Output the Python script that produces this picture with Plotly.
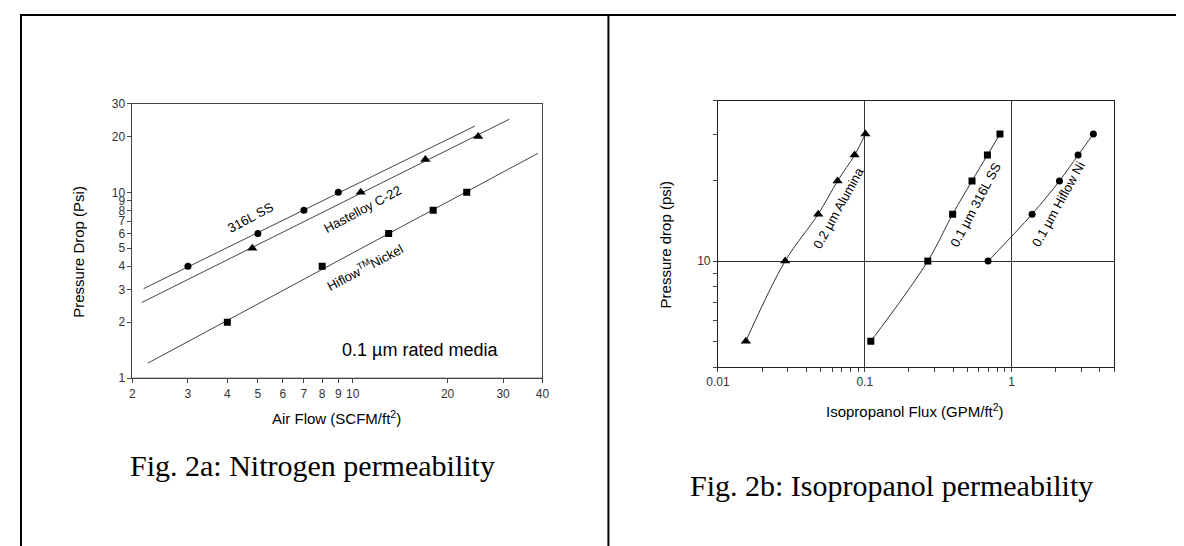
import numpy as np
import plotly.graph_objects as go

W, H = 1184, 546
OFF = 8  # the page body has an 8px margin; positions below are page pixels

# ---------------- Fig 2a data (Nitrogen permeability) ----------------
ss_air_x = [3, 5, 7, 9]
ss_air_y = [4, 6, 8, 10]
hast_air_x = [4.8, 10.6, 17, 25]
hast_air_y = [5, 10, 15, 20]
hiflow_air_x = [4, 8, 13, 18, 23]
hiflow_air_y = [2, 4, 6, 8, 10]
# extent of the fitted (power) trend lines
ss_fit_x = [2.17, 24.4]
hast_fit_x = [2.14, 31.4]
hiflow_fit_x = [2.24, 38.7]

x1_ticks = [2, 3, 4, 5, 6, 7, 8, 9, 10, 20, 30, 40]
y1_ticks = [1, 2, 3, 4, 5, 6, 7, 8, 9, 10, 20, 30]

# ---------------- Fig 2b data (Isopropanol permeability) ----------------
alumina_x = [0.0155, 0.0287, 0.0482, 0.0653, 0.0853, 0.101]
alumina_y = [5, 10, 15, 20, 25, 30]
ss_ipa_x = [0.11, 0.269, 0.397, 0.538, 0.685, 0.834]
ss_ipa_y = [5, 10, 15, 20, 25, 30]
hiflow_ipa_x = [0.692, 1.38, 2.12, 2.84, 3.61]
hiflow_ipa_y = [10, 15, 20, 25, 30]

x2_major = [0.01, 0.1, 1]
x2_major_text = ["0.01", "0.1", "1"]
x2_minor = [0.02, 0.03, 0.04, 0.05, 0.06, 0.07, 0.08, 0.09,
            0.2, 0.3, 0.4, 0.5, 0.6, 0.7, 0.8, 0.9, 2, 3, 4, 5]
y2_major = [10]
y2_major_text = ["10"]
y2_minor = [4, 5, 6, 7, 8, 9, 20, 30, 40]

SANS = "Liberation Sans, Arial, sans-serif"
SERIF = "Liberation Serif, Times New Roman, serif"


def px(x):
    return (x - OFF) / W


def py(y):
    return 1 - (y - OFF) / H


def power_fit(xs, ys, xr):
    b, a = np.polyfit(np.log10(xs), np.log10(ys), 1)
    xr = np.array(xr, dtype=float)
    return xr, 10 ** (a + b * np.log10(xr))


fig = go.Figure()

# trend lines (fig 2a)
for xs, ys, xr in [(ss_air_x, ss_air_y, ss_fit_x),
                   (hast_air_x, hast_air_y, hast_fit_x),
                   (hiflow_air_x, hiflow_air_y, hiflow_fit_x)]:
    fx, fy = power_fit(xs, ys, xr)
    fig.add_trace(go.Scatter(x=fx, y=fy, mode="lines", xaxis="x", yaxis="y",
                             line=dict(color="#444", width=1), showlegend=False,
                             hoverinfo="skip"))

fig.add_trace(go.Scatter(x=ss_air_x, y=ss_air_y, mode="markers", xaxis="x", yaxis="y",
                         marker=dict(symbol="circle", size=7, color="black"),
                         name="316L SS", showlegend=False))
fig.add_trace(go.Scatter(x=hast_air_x, y=hast_air_y, mode="markers", xaxis="x", yaxis="y",
                         marker=dict(symbol="triangle-up", size=9, color="black"),
                         name="Hastelloy C-22", showlegend=False))
fig.add_trace(go.Scatter(x=hiflow_air_x, y=hiflow_air_y, mode="markers", xaxis="x", yaxis="y",
                         marker=dict(symbol="square", size=7, color="black"),
                         name="Hiflow Nickel", showlegend=False))

# fig 2b series
fig.add_trace(go.Scatter(x=alumina_x, y=alumina_y, mode="lines+markers", xaxis="x2", yaxis="y2",
                         line=dict(color="#333", width=1, shape="spline"),
                         marker=dict(symbol="triangle-up", size=9, color="black"),
                         name="0.2 µm Alumina", showlegend=False))
fig.add_trace(go.Scatter(x=ss_ipa_x, y=ss_ipa_y, mode="lines+markers", xaxis="x2", yaxis="y2",
                         line=dict(color="#333", width=1, shape="spline"),
                         marker=dict(symbol="square", size=7, color="black"),
                         name="0.1 µm 316L SS", showlegend=False))
fig.add_trace(go.Scatter(x=hiflow_ipa_x, y=hiflow_ipa_y, mode="lines+markers", xaxis="x2", yaxis="y2",
                         line=dict(color="#333", width=1, shape="spline"),
                         marker=dict(symbol="circle", size=7, color="black"),
                         name="0.1 µm Hiflow Ni", showlegend=False))

axis_common = dict(type="log", showline=True, mirror=True, ticks="outside", ticklen=4,
                   tickcolor="#444", linecolor="#444", linewidth=1, showgrid=False,
                   zeroline=False, tickfont=dict(family=SANS, size=12, color="#333"))
minor_common = dict(ticks="outside", ticklen=4, tickcolor="#444", showgrid=False)

fig.update_layout(
    width=W, height=H,
    margin=dict(l=0, r=0, t=0, b=0),
    paper_bgcolor="white", plot_bgcolor="white",
    xaxis=dict(axis_common, domain=[px(122.3), px(539)], anchor="y",
               range=[np.log10(2), np.log10(40)],
               tickvals=x1_ticks, ticktext=[str(v) for v in x1_ticks]),
    yaxis=dict(axis_common, domain=[py(380.7), py(99)], anchor="x",
               range=[0, np.log10(30)],
               tickvals=y1_ticks, ticktext=[str(v) for v in y1_ticks]),
    xaxis2=dict(axis_common, domain=[px(717.3), px(1120)], anchor="y2",
                range=[-2, np.log10(5)], linecolor="#222",
                tickvals=x2_major, ticktext=x2_major_text,
                showgrid=True, gridcolor="#333", gridwidth=1,
                minor=dict(minor_common, tickmode="array", tickvals=x2_minor)),
    yaxis2=dict(axis_common, domain=[py(369.3), py(96)], anchor="x2",
                range=[np.log10(4), np.log10(40)], linecolor="#222",
                tickvals=y2_major, ticktext=y2_major_text,
                showgrid=True, gridcolor="#333", gridwidth=1,
                minor=dict(minor_common, tickmode="array", tickvals=y2_minor)),
)

shapes = []
# decade grid lines of fig 2a
shapes.append(dict(type="line", xref="x", yref="y domain", x0=1, x1=1, y0=0, y1=1,
                   line=dict(color="#555", width=1), layer="below"))
shapes.append(dict(type="line", xref="x domain", yref="y", x0=0, x1=1, y0=1, y1=1,
                   line=dict(color="#555", width=1), layer="below"))
# page / table borders
for x0, y0, x1, y1 in [(8, 8, 1200, 8), (9, 8, 9, 560), (606, 8, 606, 560)]:
    shapes.append(dict(type="line", xref="paper", yref="paper", x0=px(x0), x1=px(x1),
                       y0=py(y0), y1=py(y1), line=dict(color="black", width=2)))
fig.update_layout(shapes=shapes)

ann = []


def data_label(text, xv, yv, ang, xa="x", ya="y", size=13):
    ann.append(dict(text=text, x=np.log10(xv), y=np.log10(yv), xref=xa, yref=ya,
                    showarrow=False, textangle=ang,
                    font=dict(family=SANS, size=size, color="black")))


data_label("316L SS", 4.74, 7.28, -28)
data_label("Hastelloy C-22", 10.7, 8.09, -28)
data_label("Hiflow<sup>TM</sup>Nickel", 10.9, 3.95, -28)
data_label("0.1 µm rated media", 16.4, 1.41, 0, size=18)
data_label("0.2 µm Alumina", 0.0665, 15.9, -61, "x2", "y2")
data_label("0.1 µm 316L SS", 0.57, 16.3, -62, "x2", "y2")
data_label("0.1 µm Hiflow Ni", 2.1, 16.4, -61, "x2", "y2")


def paper_text(text, x, y, size, family=SANS, ang=0, xanchor="center"):
    ann.append(dict(text=text, x=px(x), y=py(y), xref="paper", yref="paper",
                    showarrow=False, textangle=ang, xanchor=xanchor, yanchor="middle",
                    font=dict(family=family, size=size, color="black")))


paper_text("Pressure Drop (Psi)", 68, 251, 15, ang=-90)
paper_text("Air Flow (SCFM/ft<sup>2</sup>)", 330, 421, 15)
paper_text("Pressure drop (psi)", 665, 243, 15, ang=-90)
paper_text("Isopropanol Flux (GPM/ft<sup>2</sup>)", 918, 414, 15)
paper_text("Fig. 2a: Nitrogen permeability", 118, 470, 30, family=SERIF, xanchor="left")
paper_text("Fig. 2b: Isopropanol permeability", 687, 491, 30, family=SERIF, xanchor="left")

fig.update_layout(annotations=ann)

fig.write_html("out.html")
